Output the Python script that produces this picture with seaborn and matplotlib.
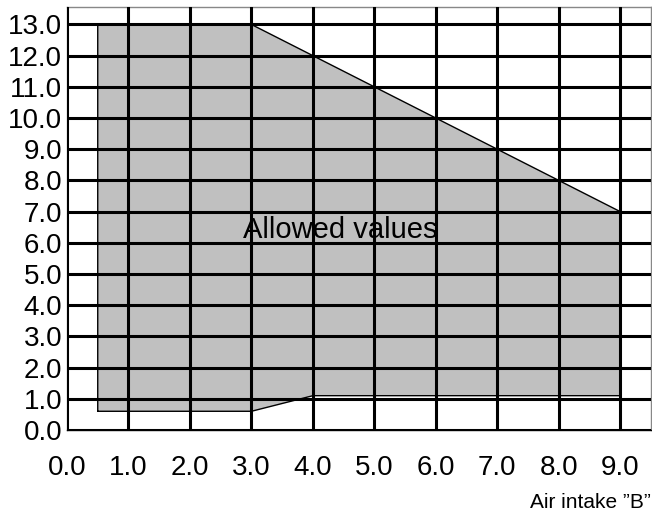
import matplotlib
matplotlib.use("Agg")
import matplotlib.pyplot as plt
import seaborn as sns
import pandas as pd

# Boundary of the allowed operating region (air intake B vs. vertical quantity)
boundary_x = [0.5, 0.5, 3.0, 9.0, 9.0, 4.0, 3.0, 0.5]
boundary_y = [0.6, 13.0, 13.0, 7.0, 1.1, 1.1, 0.6, 0.6]

x_ticks = [0, 1, 2, 3, 4, 5, 6, 7, 8, 9]
y_ticks = [0, 1, 2, 3, 4, 5, 6, 7, 8, 9, 10, 11, 12, 13]
x_tick_labels = [f"{v:.1f}" for v in x_ticks]
y_tick_labels = [f"{v:.1f}" for v in y_ticks]

region_label = "Allowed values"
axis_label = "Air intake \u201dB\u201d"

sns.set_theme(style="white")
plt.rcParams["font.family"] = ["Liberation Sans", "DejaVu Sans"]

W, H = 652, 518
fig = plt.figure(figsize=(W / 100, H / 100), dpi=100)
ax = fig.add_axes([67 / W, 1 - 430 / H, (651 - 67) / W, (430 - 7) / H])

df = pd.DataFrame({"x": boundary_x, "y": boundary_y})
ax.fill(df["x"], df["y"], color="#c0c0c0", zorder=1, lw=0)
sns.lineplot(data=df, x="x", y="y", sort=False, estimator=None,
             color="black", lw=1.0, ax=ax, zorder=1.5)

ax.set_xlim(0, 9.5)
ax.set_ylim(0, 13.56)
ax.set_xticks(x_ticks)
ax.set_xticklabels(x_tick_labels)
ax.set_yticks(y_ticks)
ax.set_yticklabels(y_tick_labels)
ax.set_xlabel("")
ax.set_ylabel("")
ax.tick_params(axis="both", length=0, labelsize=20, colors="black")
ax.tick_params(axis="x", pad=18)
ax.tick_params(axis="y", pad=3.5)

ax.set_axisbelow(False)
ax.grid(True, color="black", lw=2.2, zorder=2.5)
for side in ["left", "top", "right"]:
    ax.spines[side].set_color("#888888")
    ax.spines[side].set_linewidth(1.0)
ax.spines["bottom"].set_color("black")
ax.spines["bottom"].set_linewidth(1.0)

ax.text(4.45, 6.4, region_label, fontsize=21, ha="center", va="center",
        color="black", zorder=2)

fig.text(651 / W, 1 - 503 / H, axis_label, fontsize=15, ha="right",
         va="center", color="black")

fig.savefig("out.png", dpi=100)
